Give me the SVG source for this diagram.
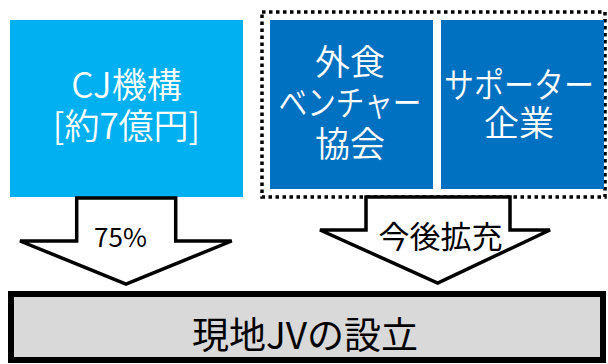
<svg xmlns="http://www.w3.org/2000/svg" width="608" height="364" viewBox="0 0 608 364">
<style>
  text { font-family: "Noto Sans CJK JP", "Noto Sans", sans-serif; text-anchor: middle; }
  .w { fill: #FFFFFF; font-size: 35px; font-weight: 350; }
  .b { fill: #000000; font-weight: 400; }
  .arrow { fill: #FFFFFF; stroke: #000000; stroke-width: 3.5; stroke-linejoin: miter; }
</style>
<rect width="608" height="364" fill="#FFFFFF"/>

<g id="group-partners">
  <rect x="262" y="12" width="343" height="185" fill="none" stroke="#000000" stroke-width="3.5" stroke-dasharray="3.5 3.5"/>
</g>

<g id="node-cj">
  <rect x="10" y="20" width="233" height="177" fill="#00B0F0"/>
  <text class="w" x="126.5" y="98">CJ機構</text>
  <text class="w" x="126.5" y="139">[約7億円]</text>
</g>

<g id="node-gaishoku">
  <rect x="270" y="20" width="163" height="169" fill="#0070C0"/>
  <text class="w" x="350" y="75">外食</text>
  <text class="w" x="350" y="116" textLength="143" lengthAdjust="spacingAndGlyphs">ベンチャー</text>
  <text class="w" x="350" y="157">協会</text>
</g>

<g id="node-supporter">
  <rect x="441" y="20" width="163" height="169" fill="#0070C0"/>
  <text class="w" x="519" y="98" textLength="150" lengthAdjust="spacingAndGlyphs">サポーター</text>
  <text class="w" x="519" y="136">企業</text>
</g>

<g id="connectors">
  <polygon class="arrow" points="76.7,198 175.7,198 175.7,241 231.7,241 126,284 20,241 76.7,241"/>
  <text class="b" x="120.5" y="247" font-size="26">75%</text>
  <polygon class="arrow" points="366,197 510,197 510,230 550,230 437.7,283 320,230 366,230"/>
  <text class="b" x="440.5" y="248" font-size="31">今後拡充</text>
</g>

<g id="node-jv">
  <rect x="11" y="294" width="592" height="66" fill="#D9D9D9" stroke="#000000" stroke-width="6"/>
  <text class="b" x="305" y="349" font-size="37">現地JVの設立</text>
</g>
</svg>
